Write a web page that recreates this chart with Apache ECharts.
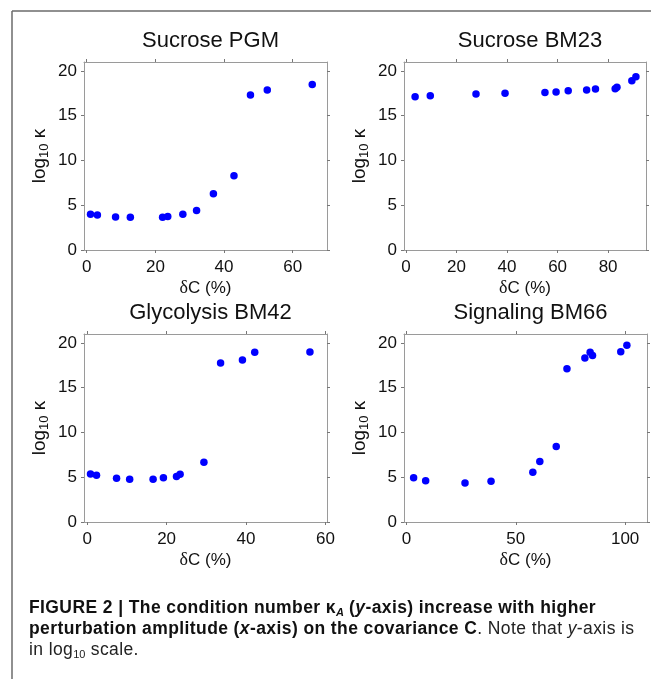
<!DOCTYPE html>
<html>
<head>
<meta charset="utf-8">
<script src="https://cdn.jsdelivr.net/npm/echarts@6/dist/echarts.min.js"></script>
<style>
  body { margin: 0; background: #fff; }
  #wrap { position: relative; width: 651px; height: 679px; }
  #main { width: 651px; height: 679px; }
  #caption {
    position: absolute; left: 29px; top: 597px; width: 622px; white-space: nowrap;
    font-family: 'Liberation Sans', Arial, sans-serif; font-size: 17.5px;
    letter-spacing: 0.4px; line-height: 21px; color: #222;
  }
  #caption b { color: #111; }
  #caption sub { font-size: 11px; vertical-align: -3px; line-height: 0; letter-spacing: 0; }
</style>
</head>
<body>
<div id="wrap">
  <div id="main"></div>
  <div id="caption">
    <b>FIGURE 2 | The condition number &kappa;<sub><i>A</i></sub> (<i>y</i>-axis) increase with higher</b><br>
    <b>perturbation amplitude (<i>x</i>-axis) on the covariance C</b>. Note that <i>y</i>-axis is<br>
    in log<sub>10</sub> scale.
  </div>
</div>
<script>
// 面板标题
var titles = ['Sucrose PGM', 'Sucrose BM23', 'Glycolysis BM42', 'Signaling BM66']

// Sucrose PGM
var pgmX = [1.1, 3.1, 8.4, 12.7, 22.1, 23.6, 28.0, 32.0, 36.9, 42.9, 47.7, 52.6, 65.7]
var pgmY = [4.0, 3.9, 3.7, 3.66, 3.66, 3.74, 4.0, 4.4, 6.28, 8.3, 17.3, 17.87, 18.5]

// Sucrose BM23
var bm23X = [3.6, 9.6, 27.7, 39.2, 55.0, 59.4, 64.2, 71.5, 75.0, 82.8, 83.5, 89.4, 91.0]
var bm23Y = [17.12, 17.23, 17.42, 17.5, 17.6, 17.64, 17.8, 17.87, 17.98, 18.0, 18.17, 18.9, 19.36]

// Glycolysis BM42
var bm42X = [0.84, 2.35, 7.4, 10.7, 16.6, 19.2, 22.5, 23.4, 29.4, 33.6, 39.1, 42.2, 56.1]
var bm42Y = [5.37, 5.22, 4.89, 4.78, 4.78, 4.93, 5.07, 5.34, 6.68, 17.76, 18.1, 18.96, 18.99]

// Signaling BM66
var bm66X = [3.3, 8.8, 26.8, 38.7, 57.8, 61.0, 68.5, 73.4, 81.6, 84.0, 85.1, 98.0, 100.8]
var bm66Y = [4.93, 4.6, 4.37, 4.55, 5.56, 6.75, 8.43, 17.13, 18.32, 18.96, 18.6, 19.03, 19.74]

// 刻度
var xTicks = [[0, 20, 40, 60], [0, 20, 40, 60, 80], [0, 20, 40, 60], [0, 50, 100]]
var yTicks = [0, 5, 10, 15, 20]

var panelX = [pgmX, bm23X, bm42X, bm66X]
var panelY = [pgmY, bm23Y, bm42Y, bm66Y]

// 布局
var xRange = [[-0.8, 70], [-0.8, 95], [-0.8, 60.4], [-1.1, 110]]
var grids = [
  { left: 84, top: 62, width: 243, height: 188 },
  { left: 404, top: 62, width: 242, height: 188 },
  { left: 84, top: 334, width: 243, height: 188 },
  { left: 404, top: 334, width: 243, height: 188 }
]

var boxColor = '#9a9a9a'
var font = 'Liberation Sans'

var zip = function (xs, ys) {
  return xs.map(function (x, i) { return [x, ys[i]] })
}

var option = {
  animation: false,
  backgroundColor: '#fff',
  textStyle: { fontFamily: font },
  title: [],
  grid: [],
  xAxis: [],
  yAxis: [],
  series: [],
  graphic: [
    // 外框
    { type: 'line', shape: { x1: 12, y1: 11, x2: 651, y2: 11 }, style: { stroke: '#6b6b6b', lineWidth: 1.5 } },
    { type: 'line', shape: { x1: 12, y1: 11, x2: 12, y2: 679 }, style: { stroke: '#6b6b6b', lineWidth: 1.5 } }
  ]
}

grids.forEach(function (g, i) {
  option.title.push({
    text: titles[i],
    left: g.left + g.width / 2,
    top: g.top - 37,
    textAlign: 'center',
    textStyle: { fontFamily: font, fontSize: 22, fontWeight: 'normal', color: '#111' }
  })
  option.grid.push({ left: g.left, top: g.top, width: g.width, height: g.height, containLabel: false })

  var lineStyle = { lineStyle: { color: boxColor, width: 1 } }
  var tick = { show: true, inside: false, length: 3, lineStyle: { color: '#777' } }

  // 下方 x 轴
  option.xAxis.push({
    type: 'value', gridIndex: i, position: 'bottom',
    min: xRange[i][0], max: xRange[i][1],
    axisLine: Object.assign({ show: true, onZero: false }, lineStyle),
    axisTick: Object.assign({ customValues: xTicks[i] }, tick),
    axisLabel: { customValues: xTicks[i], color: '#111', fontSize: 17, margin: 9, fontFamily: font },
    splitLine: { show: false },
    name: '{d|δ}C (%)', nameLocation: 'middle', nameGap: 29,
    nameTextStyle: {
      color: '#111', fontSize: 17, fontFamily: font,
      rich: { d: { fontFamily: 'Liberation Serif', fontSize: 18, color: '#111' } }
    }
  })
  // 上方 x 轴(只有刻度)
  option.xAxis.push({
    type: 'value', gridIndex: i, position: 'top',
    min: xRange[i][0], max: xRange[i][1],
    axisLine: Object.assign({ show: true, onZero: false }, lineStyle),
    axisTick: Object.assign({ customValues: xTicks[i] }, tick),
    axisLabel: { show: false },
    splitLine: { show: false }
  })
  // 左侧 y 轴
  option.yAxis.push({
    type: 'value', gridIndex: i, position: 'left',
    min: 0, max: 21,
    axisLine: Object.assign({ show: true, onZero: false }, lineStyle),
    axisTick: Object.assign({ customValues: yTicks }, tick),
    axisLabel: { customValues: yTicks, color: '#111', fontSize: 17, margin: 7, fontFamily: font },
    splitLine: { show: false },
    name: '{a|log}{s|10}{a| κ}', nameLocation: 'middle', nameGap: 33,
    nameTextStyle: {
      color: '#111', fontFamily: font,
      rich: {
        a: { fontSize: 19, color: '#111', fontFamily: font },
        s: { fontSize: 13, color: '#111', fontFamily: font, padding: [10, 0, 0, 0] }
      }
    }
  })
  // 右侧 y 轴(只有刻度)
  option.yAxis.push({
    type: 'value', gridIndex: i, position: 'right',
    min: 0, max: 21,
    axisLine: Object.assign({ show: true, onZero: false }, lineStyle),
    axisTick: Object.assign({ customValues: yTicks }, tick),
    axisLabel: { show: false },
    splitLine: { show: false }
  })

  option.series.push({
    type: 'scatter',
    xAxisIndex: i * 2,
    yAxisIndex: i * 2,
    symbolSize: 7.5,
    itemStyle: { color: '#0000ff', opacity: 1 },
    data: zip(panelX[i], panelY[i])
  })
})

var chart = echarts.init(document.getElementById('main'), null, { renderer: 'canvas' })
chart.setOption(option)
</script>
</body>
</html>
